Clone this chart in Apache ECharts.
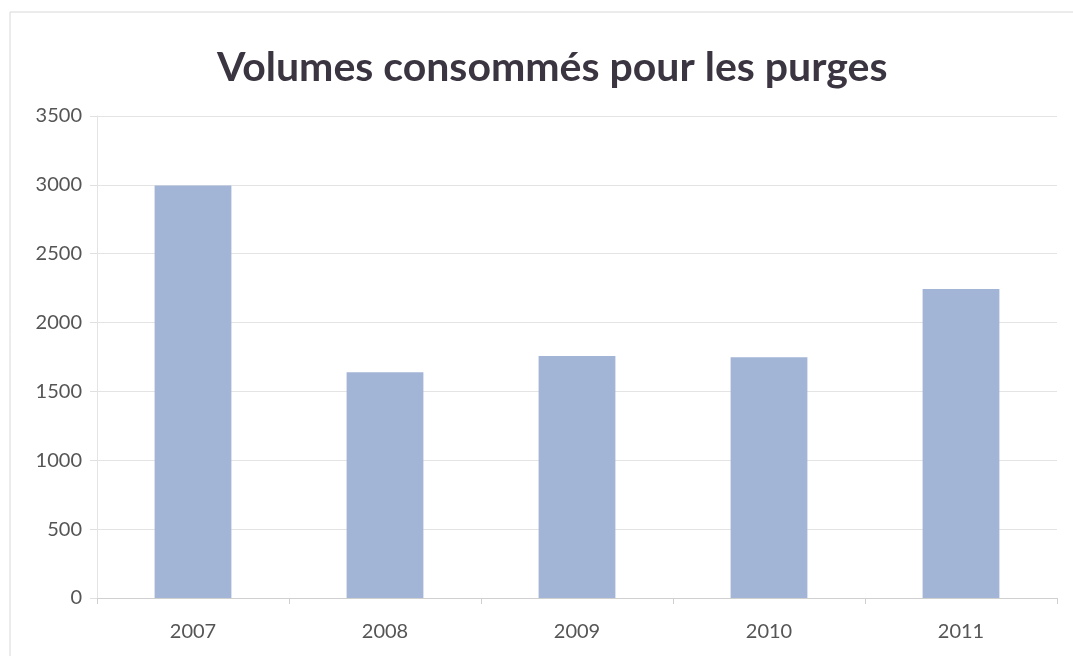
<!DOCTYPE html>
<html><head><meta charset="utf-8">
<script src="https://cdn.jsdelivr.net/npm/echarts@6/dist/echarts.min.js"></script>
<style>html,body{margin:0;padding:0;background:#fff}#c{width:1073px;height:656px}</style>
</head><body><div id="c"></div>
<script>
const categories = ['2007','2008','2009','2010','2011'];
const volumes = [2995, 1640, 1757, 1748, 2244];
const yTicks = {min: 0, max: 3500, interval: 500};

const chart = echarts.init(document.getElementById('c'));
chart.setOption({
  backgroundColor: '#ffffff',
  animation: false,
  title: {
    text: 'Volumes consommés pour les purges',
    left: 212, top: 42,
    textStyle: {fontFamily: 'Lato', fontWeight: 'bold', fontSize: 41, color: '#3a3540'}
  },
  graphic: [{
    type: 'rect', shape: {x: 10, y: 12, width: 1080, height: 660},
    style: {fill: 'none', stroke: '#d8d8d8', lineWidth: 1}, silent: true
  }],
  grid: {left: 97, right: 16, top: 116, bottom: 58},
  xAxis: {
    type: 'category', data: categories,
    axisLine: {lineStyle: {color: '#d0d0d0'}},
    axisTick: {show: true, length: 6, lineStyle: {color: '#d0d0d0'}},
    axisLabel: {fontFamily: 'Lato', fontSize: 20, color: '#555555', margin: 24}
  },
  yAxis: {
    type: 'value', min: yTicks.min, max: yTicks.max, interval: yTicks.interval,
    axisLine: {show: true, lineStyle: {color: '#e4e4e4'}},
    axisTick: {show: true, length: 7, lineStyle: {color: '#e0e0e0'}},
    splitLine: {lineStyle: {color: '#e4e4e4'}},
    axisLabel: {fontFamily: 'Lato', fontSize: 20, color: '#555555', margin: 15,
      formatter: v => String(v)}
  },
  series: [{
    type: 'bar', data: volumes, barWidth: '40%',
    itemStyle: {color: '#a3b5d6'}
  }]
});
</script></body></html>
